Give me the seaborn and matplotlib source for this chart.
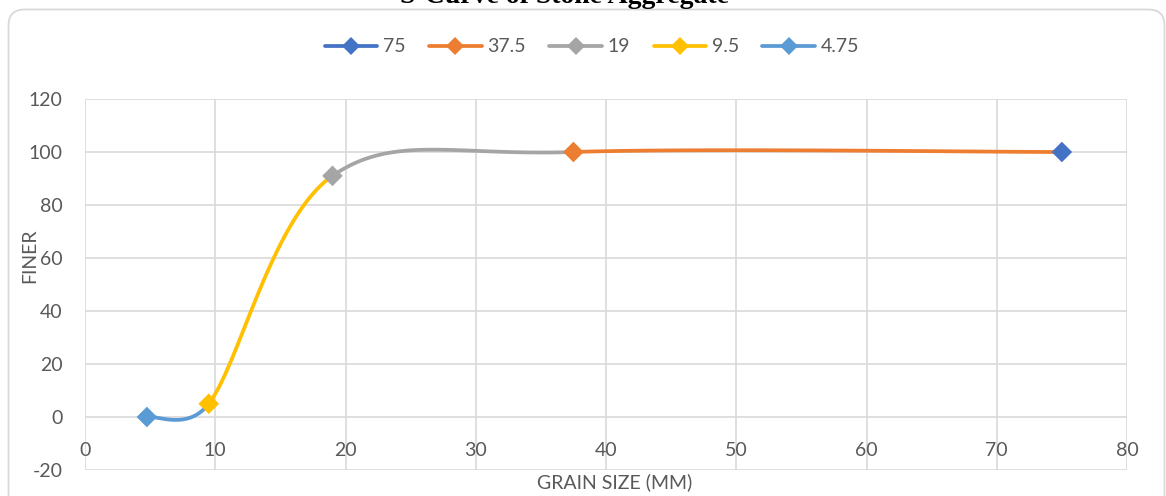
import numpy as np
import pandas as pd
import matplotlib
matplotlib.use("Agg")
import matplotlib.pyplot as plt
from matplotlib.lines import Line2D
from matplotlib.patches import FancyBboxPatch
import seaborn as sns

# Sieve sizes (mm) and percent finer, in legend order
sizes = [75, 37.5, 19, 9.5, 4.75]
finer = [100, 100, 91, 5, 0]
labels = ["75", "37.5", "19", "9.5", "4.75"]
colors = ["#4472C4", "#ED7D31", "#A5A5A5", "#FFC000", "#5B9BD5"]

x_ticks = [0, 10, 20, 30, 40, 50, 60, 70, 80]
y_ticks = [-20, 0, 20, 40, 60, 80, 100, 120]

sns.set_theme(style="white")
plt.rcParams["font.family"] = ["Lato", "DejaVu Sans"]
plt.rcParams["axes.unicode_minus"] = False

W, H = 1166, 496
fig = plt.figure(figsize=(W / 100, H / 100), dpi=100)
ax_l, ax_r, ax_t, ax_b = 85, 1127, 99, 470
ax = fig.add_axes([ax_l / W, 1 - ax_b / H, (ax_r - ax_l) / W, (ax_b - ax_t) / H])
ax.set_xlim(0, 80)
ax.set_ylim(-20, 120)

# pixel scale of each axis unit, used so the smoothing follows screen geometry
sx = (ax_r - ax_l) / 80
sy = (ax_b - ax_t) / 140


def smooth_path(xs, ys, f=1 / 6, k=0.55, n=80):
    P = np.column_stack([np.asarray(xs) * sx, np.asarray(ys) * sy])
    m = len(P)
    segs = []
    for i in range(m - 1):
        p0, p1 = P[i], P[i + 1]
        prev = P[i - 1] if i > 0 else P[i]
        nxt = P[i + 2] if i + 2 < m else P[i + 1]
        seg_len = np.linalg.norm(p1 - p0)
        t0 = (p1 - prev) * f
        t1 = (nxt - p0) * f
        if np.linalg.norm(t0) > k * seg_len:
            t0 = t0 / np.linalg.norm(t0) * k * seg_len
        if np.linalg.norm(t1) > k * seg_len:
            t1 = t1 / np.linalg.norm(t1) * k * seg_len
        c1 = p0 + t0
        c2 = p1 - t1
        t = np.linspace(0, 1, n)[:, None]
        B = ((1 - t) ** 3) * p0 + 3 * ((1 - t) ** 2) * t * c1 + 3 * (1 - t) * t ** 2 * c2 + t ** 3 * p1
        segs.append((B[:, 0] / sx, B[:, 1] / sy))
    return segs


order = np.argsort(sizes)
xs_sorted = [sizes[i] for i in order]
ys_sorted = [finer[i] for i in order]
segs = smooth_path(xs_sorted, ys_sorted)

frames = []
for j, (bx, by) in enumerate(segs):
    src = order[j]
    frames.append(pd.DataFrame({"x": bx, "y": by, "series": labels[src]}))
curve = pd.concat(frames, ignore_index=True)
palette = dict(zip(labels, colors))

sns.lineplot(data=curve, x="x", y="y", hue="series", palette=palette, sort=False,
             estimator=None, legend=False, linewidth=2.7, ax=ax)

pts = pd.DataFrame({"x": sizes, "y": finer, "series": labels})
sns.scatterplot(data=pts, x="x", y="y", hue="series", palette=palette, marker="D",
                s=110, linewidth=0, legend=False, ax=ax, zorder=5)

grid_c = "#D9D9D9"
text_c = "#595959"
ax.set_xticks(x_ticks)
ax.set_yticks(y_ticks)
ax.grid(True, color=grid_c, linewidth=1.2)
for s in ax.spines.values():
    s.set_visible(False)
ax.spines["bottom"].set_position(("data", 0))
ax.tick_params(axis="x", length=0, pad=18, labelsize=14, labelcolor=text_c)
ax.tick_params(axis="y", length=0, pad=16, labelsize=14, labelcolor=text_c)
ax.set_xlabel("")
ax.set_ylabel("")
ax.set_axisbelow(True)

fig.text(615 / W, 1 - 482 / H, "GRAIN SIZE (MM)", ha="center", va="center",
         fontsize=14, color=text_c)
fig.text(30 / W, 1 - 256 / H, "FINER", ha="center", va="center", rotation=90,
         fontsize=14, color=text_c)

fig.text(565 / W, 1 - 3 / H, "S-Curve of Stone Aggregate", ha="center", va="baseline",
         fontsize=20, fontweight="bold", family="Liberation Serif", color="black")

handles = [Line2D([], [], color=c, lw=2.7, marker="D", markersize=9, markeredgewidth=0)
           for c in colors]
leg = fig.legend(handles, labels, loc="center", bbox_to_anchor=(592 / W, 1 - 47 / H),
                 ncol=5, frameon=False, handlelength=2.7, handletextpad=0.3,
                 columnspacing=1.2, fontsize=14)
for t in leg.get_texts():
    t.set_color(text_c)

border = FancyBboxPatch((8.5, -14), 1156, H - 9 + 14 - 0.5,
                        boxstyle="round,pad=0,rounding_size=16",
                        transform=None, facecolor="none", edgecolor=grid_c,
                        linewidth=1.3)
fig.patches.append(border)

fig.savefig("out.png", dpi=100)
